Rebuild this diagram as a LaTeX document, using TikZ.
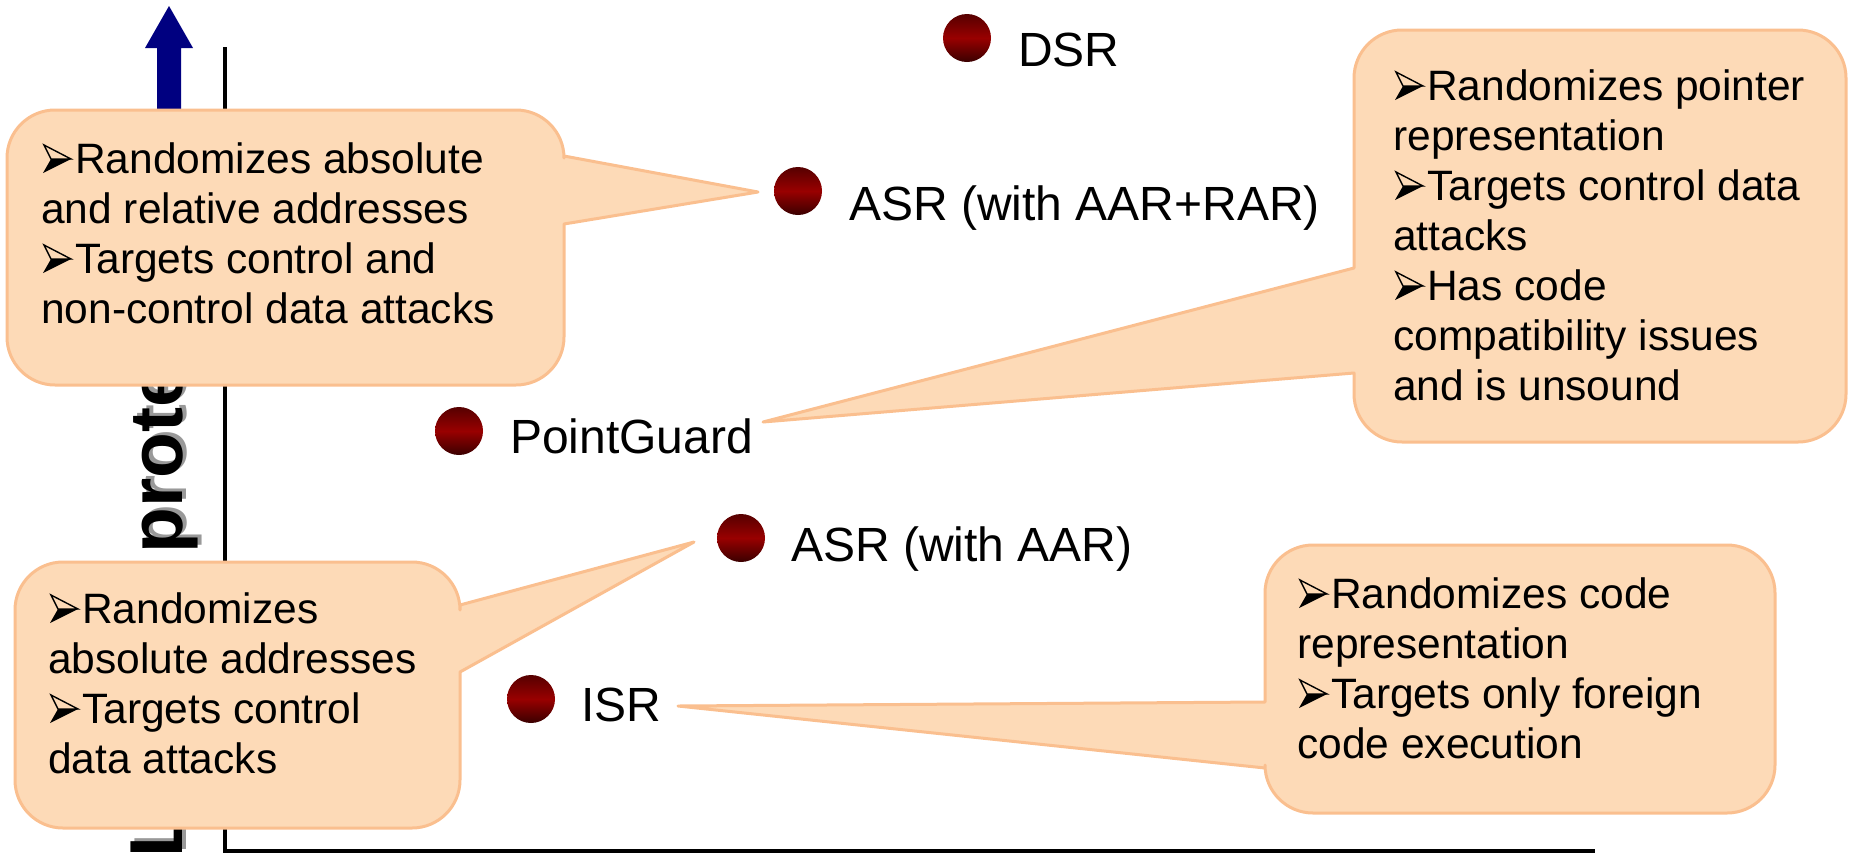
\documentclass[tikz,border=0pt]{standalone}
\usepackage{fontspec}
\setmainfont{Liberation Sans}
\usetikzlibrary{calc}

\definecolor{peach}{HTML}{FDDAB7}
\definecolor{peachline}{HTML}{FABF8F}
\definecolor{balldark}{HTML}{3A0000}
\definecolor{balltop}{HTML}{560000}
\definecolor{ballmid}{HTML}{990000}
\definecolor{arrowblue}{HTML}{000080}

% corner radius and Bezier handle length of the speech bubbles
\def\bubR{48}
\def\bubK{26.5}

% room left for the arrowhead bullet at the start of a line
\newcommand\bul{\hspace*{34pt}}

% bubble with its pointer on the right edge:
% #1 x0, #2 y0, #3 x1, #4 y1, #5/#6 pointer base (upper/lower y), #7 tip
\newcommand\bubbleRight[7]{%
  \filldraw[bubble] (#1+\bubR,#2) -- (#3-\bubR,#2)
    .. controls (#3-\bubR+\bubK,#2) and (#3,#2+\bubR-\bubK) .. (#3,#2+\bubR)
    -- (#3,#5) -- (#7) -- (#3,#6) -- (#3,#4-\bubR)
    .. controls (#3,#4-\bubR+\bubK) and (#3-\bubR+\bubK,#4) .. (#3-\bubR,#4)
    -- (#1+\bubR,#4)
    .. controls (#1+\bubR-\bubK,#4) and (#1,#4-\bubR+\bubK) .. (#1,#4-\bubR)
    -- (#1,#2+\bubR)
    .. controls (#1,#2+\bubR-\bubK) and (#1+\bubR-\bubK,#2) .. (#1+\bubR,#2)
    -- cycle;}

% bubble with its pointer on the left edge
\newcommand\bubbleLeft[7]{%
  \filldraw[bubble] (#1+\bubR,#2) -- (#3-\bubR,#2)
    .. controls (#3-\bubR+\bubK,#2) and (#3,#2+\bubR-\bubK) .. (#3,#2+\bubR)
    -- (#3,#4-\bubR)
    .. controls (#3,#4-\bubR+\bubK) and (#3-\bubR+\bubK,#4) .. (#3-\bubR,#4)
    -- (#1+\bubR,#4)
    .. controls (#1+\bubR-\bubK,#4) and (#1,#4-\bubR+\bubK) .. (#1,#4-\bubR)
    -- (#1,#6) -- (#7) -- (#1,#5) -- (#1,#2+\bubR)
    .. controls (#1,#2+\bubR-\bubK) and (#1+\bubR-\bubK,#2) .. (#1+\bubR,#2)
    -- cycle;}

\tikzset{
  bubble/.style={fill=peach, draw=peachline, line width=3pt, line join=round},
  ball/.style={circle, minimum size=48pt, inner sep=0pt,
    top color=balltop, bottom color=balldark, middle color=ballmid},
  tag/.style={anchor=base west, inner sep=0pt, font=\fontsize{48}{56}\selectfont},
  note/.style={anchor=north west, inner sep=0pt, align=left,
    font=\fontsize{42.5}{50}\selectfont},
  ytitle/.style={rotate=90, anchor=base west, inner sep=0pt,
    font=\bfseries\fontsize{75}{80}\selectfont},
  % three-d arrowhead bullet: origin at its lower back corner on the baseline
  arrowbullet/.pic={
    \fill[black] (0,0) -- (28,-14) -- (8,-14) -- cycle;
    \draw[black, line width=1.4pt, line join=miter] (1,-28) -- (28,-14) -- (8,-14) -- cycle;
  },
}

\begin{document}
\begin{tikzpicture}[x=1pt,y=-1pt]
\useasboundingbox (0,0) rectangle (1849,855);

% upward arrow beside the vertical axis
\fill[arrowblue] (157,170) -- (157,48) -- (145,48) -- (169,6) -- (193,48)
  -- (181,48) -- (181,170) -- cycle;

% axes
\coordinate (ytop) at (225,47);
\coordinate (origin) at (225,851);
\coordinate (xend) at (1595,851);
\draw[line width=4.5pt] (ytop) -- (origin) -- (xend);

% vertical axis title with its drop shadow
\node[ytitle, text=black!40] (ytitleshadow) at (186,855) {Level of protection};
\node[ytitle] (ytitletext) at (182,858) {Level of protection};

% schemes
\node[ball] (dsr) at (967,38) {};
\node[tag] (dsrtag) at (1018,66) {DSR};
\node[ball] (asrfull) at (798,191) {};
\node[tag] (asrfulltag) at (849,220) {ASR (with AAR+RAR)};
\node[ball] (pg) at (459,431) {};
\node[tag] (pgtag) at (510,453) {PointGuard};
\node[ball] (asraar) at (741,538) {};
\node[tag] (asraartag) at (791,561) {ASR (with AAR)};
\node[ball] (isr) at (531,699) {};
\node[tag] (isrtag) at (581,721) {ISR};

% pointer tips of the bubbles
\coordinate (tipA) at (758,192);
\coordinate (tipB) at (763,422);
\coordinate (tipC) at (694,542);
\coordinate (tipD) at (678,706);

% bubbles
\bubbleRight{7}{110}{564}{385}{156}{224}{tipA}
\node[note] (noteA) at (41,138) {\strut\bul Randomizes absolute\\and relative addresses\\\bul Targets control and\\non-control data attacks};
\pic at ([shift={(2,35)}]noteA.north west) {arrowbullet};
\pic at ([shift={(2,135)}]noteA.north west) {arrowbullet};

\bubbleLeft{1354}{30}{1846}{442}{268}{373}{tipB}
\node[note] (noteB) at (1393,65) {\strut\bul Randomizes pointer\\representation\\\bul Targets control data\\attacks\\\bul Has code\\compatibility issues\\and is unsound};
\pic at ([shift={(2,35)}]noteB.north west) {arrowbullet};
\pic at ([shift={(2,135)}]noteB.north west) {arrowbullet};
\pic at ([shift={(2,235)}]noteB.north west) {arrowbullet};

\bubbleRight{15}{562}{460}{828}{605}{672}{tipC}
\node[note] (noteC) at (48,588) {\strut\bul Randomizes\\absolute addresses\\\bul Targets control\\data attacks};
\pic at ([shift={(2,35)}]noteC.north west) {arrowbullet};
\pic at ([shift={(2,135)}]noteC.north west) {arrowbullet};

\bubbleLeft{1265}{545}{1775}{813}{702}{768}{tipD}
\node[note] (noteD) at (1297,573) {\strut\bul Randomizes code\\representation\\\bul Targets only foreign\\code execution};
\pic at ([shift={(2,35)}]noteD.north west) {arrowbullet};
\pic at ([shift={(2,135)}]noteD.north west) {arrowbullet};
\end{tikzpicture}
\end{document}
